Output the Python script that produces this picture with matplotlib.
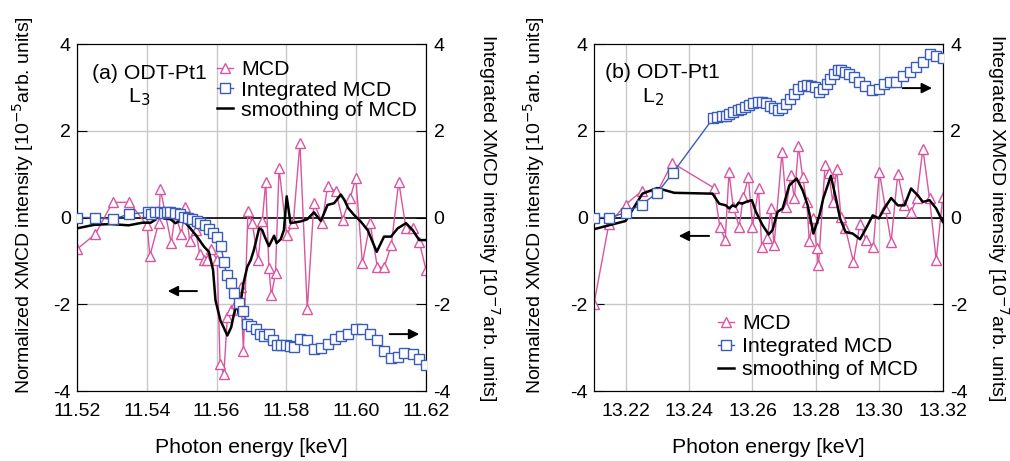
import matplotlib

matplotlib.use("Agg")
import matplotlib.pyplot as plt  # noqa: E402

plt.rcParams["font.family"] = ["Liberation Sans", "DejaVu Sans"]
plt.rcParams["axes.unicode_minus"] = False

PINK = "#d9559f"
BLUE = "#3a5cb8"

# ---- (a) L3 edge ----
l3_mcd_x = [11.5200, 11.5253, 11.5302, 11.5350, 11.5401, 11.5409, 11.5434, 11.5439,
            11.5470, 11.5482, 11.5499, 11.5511, 11.5523, 11.5540, 11.5552, 11.5564,
            11.5573, 11.5583, 11.5602, 11.5610, 11.5621, 11.5631, 11.5642, 11.5655,
            11.5669, 11.5677, 11.5690, 11.5702, 11.5719, 11.5731, 11.5741, 11.5750,
            11.5757, 11.5769, 11.5779, 11.5801, 11.5820, 11.5839, 11.5860, 11.5879,
            11.5903, 11.5918, 11.5942, 11.5961, 11.5983, 11.5999, 11.6018, 11.6040,
            11.6061, 11.6080, 11.6101, 11.6122, 11.6143, 11.6162, 11.6181, 11.6200]
l3_mcd_y = [-0.73, -0.38, 0.35, 0.35, -0.18, -0.88, -0.13, 0.66,
            -0.58, 0.08, -0.38, 0.25, -0.53, -0.29, -0.85, -0.98,
            -0.98, -0.73, -0.98, -3.37, -3.61, -2.29, -2.14, -1.98,
            -1.60, -3.07, 0.14, -0.12, -0.98, -0.08, 0.83, -1.17,
            -1.79, -1.29, 1.14, -0.40, -0.12, 1.72, -2.12, 0.33,
            -0.12, 0.72, 0.60, -0.05, 0.45, 0.91, -1.06, -0.13,
            -1.15, -1.15, -0.63, 0.83, -0.25, -0.25, -0.56, -1.20]

l3_int_x = [11.5200, 11.5251, 11.5302, 11.5350, 11.5403, 11.5411, 11.5425, 11.5439,
            11.5449, 11.5458, 11.5468, 11.5482, 11.5495, 11.5506, 11.5518, 11.5530,
            11.5543, 11.5554, 11.5566, 11.5578, 11.5590, 11.5602, 11.5613, 11.5621,
            11.5629, 11.5640, 11.5650, 11.5664, 11.5677, 11.5688, 11.5700, 11.5712,
            11.5724, 11.5736, 11.5750, 11.5763, 11.5774, 11.5786, 11.5798, 11.5811,
            11.5822, 11.5839, 11.5860, 11.5879, 11.5899, 11.5918, 11.5939, 11.5958,
            11.5977, 11.5999, 11.6018, 11.6040, 11.6061, 11.6080, 11.6100, 11.6119,
            11.6138, 11.6162, 11.6181, 11.6200]
l3_int_y = [0.00, 0.00, -0.04, 0.08, 0.12, 0.08, 0.12, 0.12,
            0.10, 0.12, 0.12, 0.10, 0.08, 0.02, -0.02, -0.04,
            -0.07, -0.12, -0.17, -0.27, -0.36, -0.44, -0.66, -1.02,
            -1.33, -1.52, -1.75, -1.98, -2.16, -2.45, -2.49, -2.56,
            -2.68, -2.72, -2.68, -2.83, -2.95, -2.95, -2.95, -2.97,
            -2.99, -2.80, -2.83, -3.03, -3.00, -2.91, -2.80, -2.72,
            -2.68, -2.56, -2.58, -2.68, -2.83, -3.07, -3.24, -3.22,
            -3.13, -3.14, -3.26, -3.41]

l3_smooth_x = [11.5200, 11.5248, 11.5296, 11.5348, 11.5387, 11.5411, 11.5425, 11.5439,
               11.5449, 11.5468, 11.5482, 11.5497, 11.5511, 11.5525, 11.5544, 11.5564,
               11.5578, 11.5590, 11.5597, 11.5611, 11.5631, 11.5642, 11.5650, 11.5659,
               11.5664, 11.5677, 11.5688, 11.5698, 11.5707, 11.5722, 11.5731, 11.5738,
               11.5750, 11.5765, 11.5772, 11.5784, 11.5793, 11.5801, 11.5812, 11.5841,
               11.5860, 11.5879, 11.5899, 11.5918, 11.5937, 11.5956, 11.5966, 11.5977,
               11.5994, 11.6013, 11.6033, 11.6059, 11.6071, 11.6080, 11.6100, 11.6119,
               11.6143, 11.6162, 11.6181, 11.6200]
l3_smooth_y = [-0.25, -0.17, -0.15, -0.18, -0.12, -0.12, -0.05, 0.12,
               -0.02, -0.04, -0.13, -0.07, -0.12, -0.25, -0.44, -0.67,
               -0.79, -1.21, -1.91, -2.37, -2.72, -2.53, -2.22, -1.98,
               -2.25, -1.52, -1.14, -0.98, -0.75, -0.25, -0.29, -0.44,
               -0.66, -0.42, -0.59, -0.50, -0.29, 0.49, -0.13, -0.09,
               -0.04, 0.12, -0.08, 0.29, 0.33, 0.53, 0.41, 0.22,
               0.06, -0.09, -0.29, -0.79, -0.59, -0.44, -0.44, -0.25,
               -0.13, -0.29, -0.52, -0.52]

# ---- (b) L2 edge ----
l2_mcd_x = [13.2100, 13.2147, 13.2200, 13.2251, 13.2300, 13.2347, 13.2479, 13.2497,
            13.2514, 13.2526, 13.2539, 13.2558, 13.2571, 13.2587, 13.2600, 13.2619,
            13.2629, 13.2647, 13.2658, 13.2668, 13.2693, 13.2707, 13.2721, 13.2732,
            13.2745, 13.2758, 13.2771, 13.2779, 13.2792, 13.2802, 13.2808, 13.2829,
            13.2840, 13.2853, 13.2865, 13.2879, 13.2893, 13.2918, 13.2939, 13.2958,
            13.2981, 13.3000, 13.3019, 13.3037, 13.3058, 13.3079, 13.3100, 13.3118,
            13.3137, 13.3158, 13.3179, 13.3200]
l2_mcd_y = [-2.00, -0.16, 0.30, 0.61, 0.59, 1.26, 0.68, -0.21,
            -0.52, 1.05, 0.25, -0.21, 0.48, 0.93, -0.21, 0.67,
            -0.67, -0.48, 0.21, -0.64, 1.51, 0.25, 0.97, 0.44,
            1.66, 0.93, 0.36, -0.54, -0.02, -0.70, -1.10, 1.22,
            1.03, 0.36, 1.13, 0.02, -0.25, -1.02, -0.14, -0.52,
            -0.67, 1.05, 0.21, -0.56, 1.01, 0.28, 0.13, 0.44,
            1.59, 0.44, -0.98, 0.48]

l2_int_x = [13.2100, 13.2149, 13.2200, 13.2251, 13.2300, 13.2349, 13.2476, 13.2489,
            13.2503, 13.2516, 13.2526, 13.2539, 13.2553, 13.2563, 13.2577, 13.2589,
            13.2602, 13.2616, 13.2629, 13.2642, 13.2656, 13.2668, 13.2679, 13.2693,
            13.2705, 13.2718, 13.2732, 13.2742, 13.2758, 13.2771, 13.2784, 13.2798,
            13.2811, 13.2821, 13.2834, 13.2844, 13.2856, 13.2868, 13.2879, 13.2893,
            13.2905, 13.2921, 13.2937, 13.2956, 13.2977, 13.2998, 13.3016, 13.3034,
            13.3053, 13.3074, 13.3095, 13.3116, 13.3137, 13.3158, 13.3179, 13.3200]
l2_int_y = [0.00, 0.00, 0.11, 0.30, 0.57, 1.03, 2.29, 2.31,
            2.34, 2.35, 2.39, 2.43, 2.47, 2.51, 2.54, 2.60,
            2.64, 2.66, 2.66, 2.64, 2.58, 2.52, 2.47, 2.52,
            2.62, 2.74, 2.85, 2.97, 3.04, 3.06, 3.04, 3.00,
            2.90, 2.97, 3.08, 3.20, 3.31, 3.39, 3.41, 3.36,
            3.31, 3.23, 3.13, 3.04, 2.95, 2.97, 3.08, 3.12,
            3.13, 3.27, 3.35, 3.46, 3.58, 3.77, 3.72, 3.67]

l2_smooth_x = [13.2100, 13.2147, 13.2200, 13.2253, 13.2300, 13.2353, 13.2474, 13.2495,
               13.2516, 13.2526, 13.2537, 13.2547, 13.2556, 13.2568, 13.2579, 13.2598,
               13.2611, 13.2632, 13.2651, 13.2663, 13.2679, 13.2695, 13.2716, 13.2739,
               13.2758, 13.2774, 13.2792, 13.2811, 13.2823, 13.2847, 13.2863, 13.2876,
               13.2893, 13.2916, 13.2939, 13.2958, 13.2979, 13.2998, 13.3016, 13.3037,
               13.3058, 13.3079, 13.3100, 13.3121, 13.3137, 13.3158, 13.3179, 13.3200]
l2_smooth_y = [-0.27, -0.18, -0.08, 0.55, 0.68, 0.57, 0.55, 0.32,
               0.28, 0.21, 0.28, 0.25, 0.34, 0.32, 0.36, 0.40,
               0.13, -0.18, -0.39, -0.29, 0.13, 0.21, 0.74, 0.90,
               0.63, 0.28, -0.37, 0.05, 0.44, 0.96, 0.44, -0.02,
               -0.33, -0.37, -0.50, -0.25, 0.05, -0.02, 0.21, 0.45,
               0.28, 0.28, 0.67, 0.51, 0.36, 0.40, 0.21, -0.10]

L3_XTICKS = [11.52, 11.54, 11.56, 11.58, 11.60, 11.62]
L2_XTICKS = [13.22, 13.24, 13.26, 13.28, 13.30, 13.32]
YTICKS = [-4, -2, 0, 2, 4]
LEGEND_LABELS = ["MCD", "Integrated MCD", "smoothing of MCD"]

FS = 15.3      # x label, legend, panel tags
FS_YLAB = 14.0
FS_TICK = 14


def panel(rect, mx, my, ix, iy, sx, sy, xlim, xticks, tag, edge, lay):
    ax = fig.add_axes(rect)
    ax2 = ax.twinx()
    for xt in xticks:
        ax.axvline(xt, color="#c8c8c8", lw=1.0, zorder=0)
    for yt in (-2, 2):
        ax.axhline(yt, color="#c8c8c8", lw=1.0, zorder=0)
    ax.axhline(0, color="black", lw=1.2, zorder=1)

    h1, = ax.plot(mx, my, "-^", color=PINK, lw=1.0, ms=7.5, mfc="white",
                  mec=PINK, mew=1.0, zorder=2)
    h3, = ax.plot(sx, sy, "-", color="black", lw=1.8, zorder=4)
    h2, = ax2.plot(ix, iy, "-s", color=BLUE, lw=1.0, ms=6.5, mfc="white",
                   mec=BLUE, mew=1.0, zorder=3)

    ax.set_xlim(*xlim)
    ax.set_ylim(-4, 4)
    ax2.set_ylim(-4, 4)
    ax.set_xticks(xticks)
    ax.set_xticklabels([f"{v:.2f}" for v in xticks])
    ax.set_yticks(YTICKS)
    ax2.set_yticks(YTICKS)
    ax.tick_params(direction="in", length=7, labelsize=FS_TICK, pad=4.5)
    ax2.tick_params(direction="in", length=7, labelsize=FS_TICK, pad=5.5)
    ax.tick_params(axis="x", length=0, pad=8.5)

    ax.set_xlabel("Photon energy [keV]", fontsize=FS)
    ax.xaxis.set_label_coords(0.5, -0.135)
    ax.set_ylabel("Normalized XMCD intensity [10$^{-5}$arb. units]",
                  fontsize=FS_YLAB)
    ax.yaxis.set_label_coords(lay["ylab_l"], 0.535)
    ax2.set_ylabel("Integrated XMCD intensity [10$^{-7}$arb. units]",
                   fontsize=FS_YLAB, rotation=270, va="bottom")
    ax2.yaxis.set_label_coords(lay["ylab_r"], 0.50)

    ax.text(lay["tag"][0], lay["tag"][1], tag, transform=ax.transAxes,
            fontsize=FS, va="baseline")
    ax.text(lay["edge"][0], lay["edge"][1], edge, transform=ax.transAxes,
            fontsize=FS, va="baseline")

    ax2.legend([h1, h2, h3], LEGEND_LABELS, loc="upper left",
               bbox_to_anchor=lay["legend"], frameon=False, fontsize=FS,
               handlelength=0.75, handletextpad=0.4,
               labelspacing=lay["spacing"], borderaxespad=0, borderpad=0)

    for tail, head in lay["arrows"]:
        ax.annotate("", xy=head, xytext=tail, xycoords="axes fraction",
                    textcoords="axes fraction",
                    arrowprops=dict(arrowstyle="-|>", color="black", lw=1.4,
                                    mutation_scale=15))
    return ax, ax2


fig = plt.figure(figsize=(10.10, 4.61), dpi=100)

panel([0.0762, 0.1518, 0.3455, 0.7527], l3_mcd_x, l3_mcd_y,
      l3_int_x, l3_int_y, l3_smooth_x, l3_smooth_y,
      (11.52, 11.62), L3_XTICKS, "(a) ODT-Pt1", "L$_3$",
      dict(ylab_l=-0.117, ylab_r=1.143, tag=(0.043, 0.899), edge=(0.146, 0.833),
           legend=(0.401, 0.953), spacing=0.06,
           arrows=[((0.352, 0.288), (0.252, 0.288)),
                   ((0.888, 0.164), (0.989, 0.164))]))

panel([0.588, 0.1518, 0.3455, 0.7527], l2_mcd_x, l2_mcd_y,
      l2_int_x, l2_int_y, l2_smooth_x, l2_smooth_y,
      (13.21, 13.32), L2_XTICKS, "(b) ODT-Pt1", "L$_2$",
      dict(ylab_l=-0.135, ylab_r=1.120, tag=(0.032, 0.902), edge=(0.138, 0.833),
           legend=(0.355, 0.222), spacing=0.2,
           arrows=[((0.338, 0.447), (0.235, 0.447)),
                   ((0.877, 0.873), (0.977, 0.873))]))

fig.savefig("out.png", dpi=100)
